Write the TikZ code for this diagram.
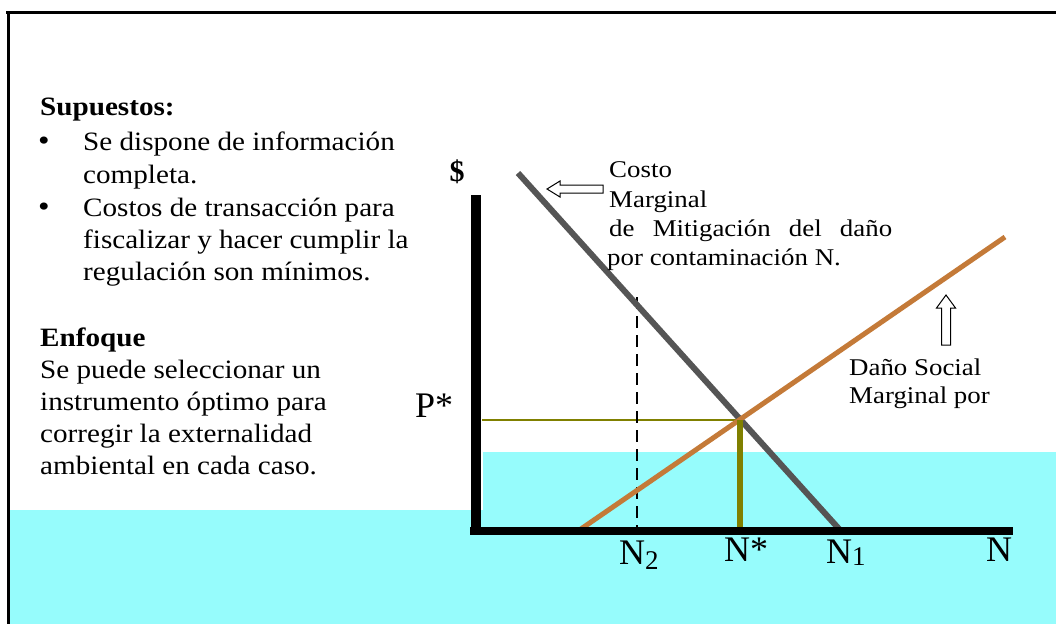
\documentclass[tikz,border=0pt]{standalone}
\usepackage{fontspec}
\setmainfont{Liberation Serif}[FakeStretch=1.1]
\newfontfamily\labfont{Liberation Serif}[FakeStretch=1.12]
\newfontfamily\axfont{Liberation Serif}
\definecolor{cyanbg}{RGB}{150,252,252}
\definecolor{mcgray}{RGB}{85,85,85}
\definecolor{mdorange}{RGB}{196,122,56}
\definecolor{olivel}{RGB}{128,128,0}
\tikzset{
  body/.style={font=\fontsize{26.5}{32}\selectfont, anchor=base west, inner sep=0pt},
  bodyb/.style={body, font=\fontsize{26.5}{32}\selectfont\bfseries},
  lab/.style={font=\labfont\fontsize{24}{29}\selectfont, anchor=base west, inner sep=0pt},
  axlab/.style={font=\axfont\fontsize{36}{36}\selectfont, anchor=base west, inner sep=0pt},
  hollow/.style={draw=black, fill=white, line width=1pt, line join=miter},
  mcline/.style={draw=mcgray, line width=6pt},
  mdline/.style={draw=mdorange, line width=5pt},
  axis/.style={draw=black, line width=10pt},
}
\begin{document}
\begin{tikzpicture}[x=1pt,y=-1pt]
\useasboundingbox (0,0) rectangle (1056,624);
\fill[white] (0,0) rectangle (1056,624);
% background cyan band
\fill[cyanbg] (483,452) rectangle (1056,624);
\fill[cyanbg] (10,510) rectangle (1056,624);
% frame
\draw[line width=3pt] (6,12) -- (1056,12);
\draw[line width=3pt] (8,11) -- (8,624);

% left text
\node[bodyb] (sup) at (40,115) {Supuestos:};
\node[body] (b1) at (38,150) {\fontsize{30}{30}\selectfont •};
\node[body] (l1) at (83,150) {Se dispone de información};
\node[body] (l2) at (83,183) {completa.};
\node[body] (b2) at (38,216) {\fontsize{30}{30}\selectfont •};
\node[body] (l3) at (83,216) {Costos de transacción para};
\node[body] (l4) at (83,248) {fiscalizar y hacer cumplir la};
\node[body] (l5) at (83,280) {regulación son mínimos.};
\node[bodyb] (enf) at (40,346) {Enfoque};
\node[body] (e1) at (40,378) {Se puede seleccionar un};
\node[body] (e2) at (40,410) {instrumento óptimo para};
\node[body] (e3) at (40,442) {corregir la externalidad};
\node[body] (e4) at (40,474) {ambiental en cada caso.};

% curve end points
\coordinate (mcA) at (518,173);
\coordinate (mcB) at (840,530);
\coordinate (mdA) at (578,531);
\coordinate (mdB) at (1005,237);
\coordinate (eq) at (740,420);
\coordinate (eqx) at (740,528);
\coordinate (pax) at (482,420);
\coordinate (n2top) at (637,297);
\coordinate (n2bot) at (637,527);

% guide lines
\draw[olivel, line width=2pt] (pax) -- (eq);
\draw[black, line width=1.6pt, dash pattern=on 12pt off 7pt] (n2top) -- (n2bot);
% curves
\draw[mcline] (mcA) -- (mcB);
\draw[mdline] (mdA) -- (mdB);
\draw[olivel, line width=6pt] (eq) -- (eqx);

% axes
\draw[axis] (476,195) -- (476,535);
\draw[draw=black, line width=8pt] (470,531) -- (1013,531);

% axis labels
\node[font=\axfont\fontsize{30}{30}\selectfont\bfseries, inner sep=0pt] (dol) at (457,172) {\$};
\node[axlab] (pstar) at (415,417) {P*};
\node[axlab] (n2) at (619,564) {N{\fontsize{27}{27}\selectfont\raisebox{-5pt}{2}}};
\node[axlab] (nstar) at (724,561) {N*};
\node[axlab] (n1) at (826,563) {N{\fontsize{27}{27}\selectfont\raisebox{-2pt}{1}}};
\node[axlab] (nn) at (986,561) {N};

% curve labels
\node[lab] (c1) at (609,177) {Costo};
\node[lab] (c2) at (609,207) {Marginal};
\node[lab] (c3) at (609,236) {\makebox[283pt][s]{de Mitigación del daño}};
\node[lab] (c4) at (607,265) {por contaminación N.};
\node[lab] (d1) at (849,375) {Daño Social};
\node[lab] (d2) at (849,403) {Marginal por};

% hollow arrows
\draw[hollow] (547,189) -- (560,181) -- (560,185) -- (603,185) -- (603,193) -- (560,193) -- (560,197) -- cycle;
\draw[hollow] (946,295) -- (955.5,308) -- (950.5,308) -- (950.5,345) -- (941.5,345) -- (941.5,308) -- (936.5,308) -- cycle;
\end{tikzpicture}
\end{document}
